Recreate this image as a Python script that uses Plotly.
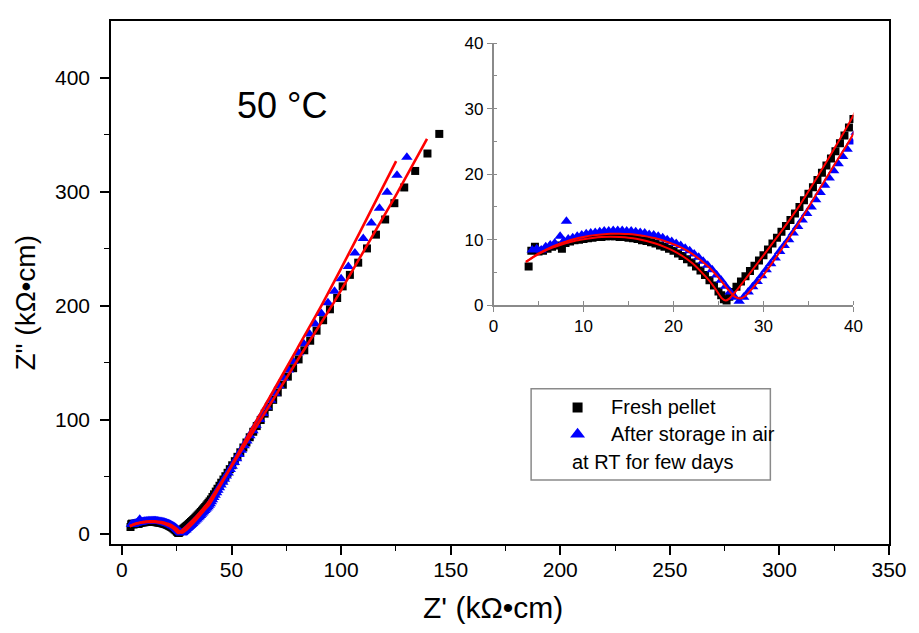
import plotly.graph_objects as go

# ---- Nyquist data, Z' / Z'' in kOhm*cm ----
fresh_zre = [3.9, 4.2, 4.6, 5.0, 5.5, 6.0, 6.5, 7.0, 7.6, 8.0, 8.5, 9.0, 9.5, 10.0, 10.5, 11.0,
             11.5, 12.0, 12.5, 13.0, 13.5, 14.0, 14.5, 15.0, 15.5, 16.0, 16.5, 17.0, 17.5, 18.0,
             18.5, 19.0, 19.5, 20.0, 20.5, 21.0, 21.5, 22.0, 22.5, 23.0, 23.5, 24.0, 24.5, 25.0,
             25.3, 25.6, 25.9, 26.2, 26.5, 27.0, 27.5, 28.0, 28.5, 29.0, 29.5, 30.0, 30.5, 31.0,
             31.5, 32.0, 32.5, 33.0, 33.5, 34.0, 34.5, 35.0, 35.5, 36.0, 36.5, 37.0, 37.5, 38.0,
             38.5, 39.0, 39.5, 40.0, 40.6, 41.3, 42.0, 42.8, 43.6, 44.5, 45.3, 46.3, 47.2, 48.2,
             49.2, 50.3, 51.5, 52.7, 54.0, 55.4, 56.8, 58.3, 59.9, 61.5, 63.3, 65.1, 67.0, 69.0,
             71.1, 73.4, 75.7, 78.1, 80.6, 83.2, 85.9, 88.8, 91.8, 94.9, 98.2, 100.7, 104.0,
             107.8, 111.8, 115.9, 120.1, 124.3, 128.8, 133.8, 139.4, 144.8]
fresh_zim = [5.9, 8.3, 8.9, 8.2, 8.3, 8.6, 8.9, 9.1, 8.6, 9.5, 9.7, 9.9, 10.0, 10.1, 10.2, 10.3,
             10.4, 10.4, 10.5, 10.5, 10.5, 10.4, 10.4, 10.3, 10.2, 10.1, 9.9, 9.8, 9.6, 9.4,
             9.1, 8.9, 8.6, 8.3, 7.9, 7.5, 7.0, 6.5, 5.9, 5.3, 4.6, 3.8, 3.0, 2.1,
             1.5, 0.9, 0.7, 1.3, 2.0, 2.8, 3.6, 4.4, 5.2, 6.0, 6.8, 7.6, 8.5, 9.4,
             10.3, 11.2, 12.1, 13.0, 14.0, 15.0, 16.0, 17.0, 18.0, 19.1, 20.2, 21.3, 22.4, 23.5,
             24.7, 25.9, 27.1, 28.4, 30.1, 32.3, 34.6, 37.0, 39.5, 42.1, 44.8, 47.6, 50.5, 53.5,
             56.7, 60.1, 63.7, 67.5, 71.5, 75.7, 80.1, 84.7, 89.5, 94.5, 99.8, 105.4, 111.3, 117.5,
             124.0, 130.8, 137.9, 145.3, 153.0, 161.0, 169.4, 178.2, 187.4, 197.0, 206.9, 217.1, 227.2,
             237.9, 250.4, 262.5, 275.8, 290.1, 303.9, 318.4, 333.7, 350.9]

stored_zre = [4.3, 4.8, 5.3, 5.8, 6.3, 6.8, 7.4, 7.8, 8.1, 8.3, 8.8, 9.3, 9.8, 10.3, 10.8, 11.3,
              11.8, 12.3, 12.8, 13.3, 13.8, 14.3, 14.8, 15.3, 15.8, 16.3, 16.8, 17.3, 17.8, 18.3,
              18.8, 19.3, 19.8, 20.3, 20.8, 21.3, 21.8, 22.3, 22.8, 23.3, 23.8, 24.3, 24.8, 25.3,
              25.8, 26.3, 26.8, 27.3, 27.8, 28.3, 28.8, 29.3, 29.8, 30.3, 30.8, 31.3, 31.8, 32.3,
              32.8, 33.3, 33.8, 34.3, 34.8, 35.3, 35.8, 36.3, 36.8, 37.3, 37.8, 38.3, 38.8, 39.3,
              39.8, 40.3, 40.8, 41.3, 41.9, 42.5, 43.2, 43.8, 44.5, 45.2, 46.0, 46.8, 47.6, 48.5,
              49.4, 50.3, 51.3, 52.3, 53.4, 54.5, 55.8, 57.0, 58.4, 59.8, 61.2, 62.8, 64.4, 66.1,
              67.9, 69.8, 71.7, 73.8, 76.0, 78.2, 80.6, 83.0, 85.6, 88.2, 91.0, 94.0, 97.0, 100.0,
              103.3, 106.3, 110.1, 113.8, 117.5, 121.0, 125.5, 130.0]
stored_zim = [8.4, 8.6, 8.4, 8.9, 9.2, 9.5, 10.5, 9.8, 12.8, 10.1, 10.3, 10.5, 10.7, 10.9, 11.0, 11.1,
              11.2, 11.3, 11.3, 11.4, 11.4, 11.4, 11.3, 11.3, 11.2, 11.1, 11.0, 10.8, 10.7, 10.5,
              10.3, 10.0, 9.7, 9.4, 9.1, 8.7, 8.3, 7.8, 7.3, 6.7, 6.1, 5.4, 4.6, 3.8,
              2.9, 2.0, 1.2, 0.6, 1.2, 2.0, 2.8, 3.6, 4.5, 5.4, 6.3, 7.2, 8.2, 9.1,
              10.0, 11.0, 12.0, 13.0, 14.0, 15.0, 16.1, 17.2, 18.3, 19.4, 20.5, 21.6, 22.7, 23.8,
              24.9, 26.4, 28.1, 29.9, 31.8, 33.8, 35.9, 38.1, 40.4, 42.8, 45.3, 47.9, 50.6, 53.4,
              56.3, 59.3, 62.5, 65.9, 69.5, 73.3, 77.3, 81.5, 85.9, 90.5, 95.3, 100.3, 105.6, 111.2,
              117.1, 123.3, 129.8, 136.6, 143.7, 151.1, 158.8, 166.8, 175.2, 184.0, 193.2, 202.8, 212.8, 223.7,
              234.5, 246.3, 259.1, 272.7, 285.7, 299.6, 314.6, 330.5]

# ---- equivalent-circuit fits ----
fresh_fit_zre = [3.6, 5.0, 6.0, 7.0, 8.0, 9.0, 10.0, 11.0, 12.0, 13.0, 14.0, 15.0, 16.0, 17.0, 18.0,
                 19.0, 20.0, 21.0, 22.0, 23.0, 24.0, 24.8, 25.4, 25.8, 26.2, 26.8, 27.5, 28.5, 30.0,
                 32.0, 34.0, 36.0, 38.0, 40.0, 60.0, 80.0, 97.0, 110.0, 125.0, 139.2]
fresh_fit_zim = [6.6, 7.8, 8.5, 9.0, 9.45, 9.8, 10.05, 10.25, 10.4, 10.45, 10.4, 10.3, 10.1, 9.8, 9.4,
                 8.9, 8.3, 7.5, 6.5, 5.2, 3.7, 2.2, 1.0, 0.7, 1.0, 1.9, 3.1, 4.9, 7.6,
                 11.3, 15.2, 19.6, 24.2, 29.0, 90.0, 152.0, 204.0, 247.0, 297.0, 346.5]
stored_fit_zre = [3.6, 5.0, 6.0, 7.0, 8.0, 9.0, 10.0, 11.0, 12.0, 13.0, 14.0, 15.0, 16.0, 17.0, 18.0,
                  19.0, 20.0, 21.0, 22.0, 23.0, 24.0, 25.0, 26.0, 26.8, 27.4, 28.0, 28.8, 30.0, 32.0,
                  34.0, 36.0, 38.0, 40.0, 60.0, 80.0, 91.7, 108.0, 125.1]
stored_fit_zim = [6.6, 7.9, 8.6, 9.2, 9.7, 10.1, 10.4, 10.65, 10.8, 10.9, 10.9, 10.85, 10.7, 10.5, 10.2,
                  9.8, 9.3, 8.7, 7.9, 6.9, 5.7, 4.2, 2.5, 1.3, 1.0, 1.4, 2.6, 4.6, 8.5,
                  12.7, 17.2, 21.7, 26.2, 94.5, 162.5, 202.6, 262.5, 327.0]

FONT = "Liberation Sans, Arial, sans-serif"
BLACK, BLUE, RED, GREY = "#000000", "#0000ff", "#ff0000", "#8a8a8a"

fig = go.Figure()


def add_panel(xa, ya, sq, tri, lw):
    fig.add_trace(go.Scatter(x=fresh_zre, y=fresh_zim, mode="markers", xaxis=xa, yaxis=ya,
                             marker=dict(symbol="square", size=sq, color=BLACK, line=dict(width=0)),
                             showlegend=False))
    fig.add_trace(go.Scatter(x=stored_zre, y=stored_zim, mode="markers", xaxis=xa, yaxis=ya,
                             marker=dict(symbol="triangle-up", size=tri, color=BLUE, line=dict(width=0)),
                             showlegend=False))
    for fx, fy in ((fresh_fit_zre, fresh_fit_zim), (stored_fit_zre, stored_fit_zim)):
        fig.add_trace(go.Scatter(x=fx, y=fy, mode="lines", xaxis=xa, yaxis=ya,
                                 line=dict(color=RED, width=lw, shape="spline", smoothing=0.6),
                                 showlegend=False))


add_panel("x", "y", 8, 10, 2.6)
add_panel("x2", "y2", 8, 10, 2.0)

# legend symbols, placed on a hidden axis pair overlaying the main plot area
fig.add_trace(go.Scatter(x=[0.5997], y=[0.261], mode="markers", xaxis="x3", yaxis="y3",
                         marker=dict(symbol="square", size=10, color=BLACK), showlegend=False))
fig.add_trace(go.Scatter(x=[0.5997], y=[0.2098], mode="markers", xaxis="x3", yaxis="y3",
                         marker=dict(symbol="triangle-up", size=13, color=BLUE), showlegend=False))

main_axis = dict(showline=True, linecolor=BLACK, linewidth=1.6, mirror=True, showgrid=False,
                 zeroline=False, ticks="outside", ticklen=9, tickwidth=1.6, tickcolor=BLACK,
                 tickfont=dict(family=FONT, size=21, color=BLACK))
inset_axis = dict(showline=True, linecolor=GREY, linewidth=1.5, mirror=False, showgrid=False,
                  zeroline=False, ticks="outside", ticklen=5, tickwidth=1.3, tickcolor=GREY,
                  tickfont=dict(family=FONT, size=17, color=BLACK), range=[0, 40], dtick=10,
                  minor=dict(dtick=5, ticks="inside", ticklen=4, tickwidth=1.2, tickcolor=GREY,
                             showgrid=False))

fig.update_layout(
    width=919, height=633,
    margin=dict(l=111, r=21, t=16, b=89),
    paper_bgcolor="white", plot_bgcolor="rgba(0,0,0,0)",
    xaxis=dict(main_axis, range=[-5, 350], dtick=50, ticklabelstandoff=-3,
               minor=dict(dtick=25, ticks="outside", ticklen=5, tickwidth=1.4, tickcolor=BLACK,
                          showgrid=False)),
    yaxis=dict(main_axis, range=[-9, 450], tickvals=[0, 100, 200, 300, 400], ticklabelstandoff=6,
               minor=dict(tickvals=[50, 150, 250, 350], ticks="outside", ticklen=5, tickwidth=1.4,
                          tickcolor=BLACK, showgrid=False)),
    xaxis2=dict(inset_axis, domain=[0.4917, 0.9543], anchor="y2"),
    yaxis2=dict(inset_axis, domain=[0.4567, 0.9577], anchor="x2"),
    xaxis3=dict(range=[0, 1], visible=False, overlaying="x", anchor="y3"),
    yaxis3=dict(range=[0, 1], visible=False, overlaying="y", anchor="x3"),
)

# legend frame
fig.add_shape(type="rect", xref="paper", yref="paper", x0=0.54, x1=0.8475, y0=0.1226, y1=0.297,
              line=dict(color=GREY, width=1.5), fillcolor="rgba(0,0,0,0)")

legend_font = dict(family=FONT, size=20, color=BLACK)
fig.add_annotation(x=0.6404, y=0.261, xref="paper", yref="paper", text="Fresh pellet",
                   showarrow=False, xanchor="left", yanchor="middle", font=legend_font)
fig.add_annotation(x=0.6404, y=0.2098, xref="paper", yref="paper", text="After storage in air",
                   showarrow=False, xanchor="left", yanchor="middle", font=legend_font)
fig.add_annotation(x=0.5897, y=0.156, xref="paper", yref="paper", text="at RT for few days",
                   showarrow=False, xanchor="left", yanchor="middle", font=legend_font)

# temperature label
fig.add_annotation(x=0.2198, y=0.839, xref="paper", yref="paper", text="50 °C",
                   showarrow=False, xanchor="center", yanchor="middle",
                   font=dict(family=FONT, size=36, color=BLACK))

# axis titles
fig.add_annotation(x=0.4905, y=-0.1219, xref="paper", yref="paper", text="Z' (kΩ•cm)",
                   showarrow=False, xanchor="center", yanchor="middle",
                   font=dict(family=FONT, size=30, color=BLACK))
fig.add_annotation(x=-0.1105, y=0.4618, xref="paper", yref="paper", text='Z" (kΩ•cm)',
                   showarrow=False, xanchor="center", yanchor="middle", textangle=-90,
                   font=dict(family=FONT, size=28, color=BLACK))

fig.write_html("out.html")
